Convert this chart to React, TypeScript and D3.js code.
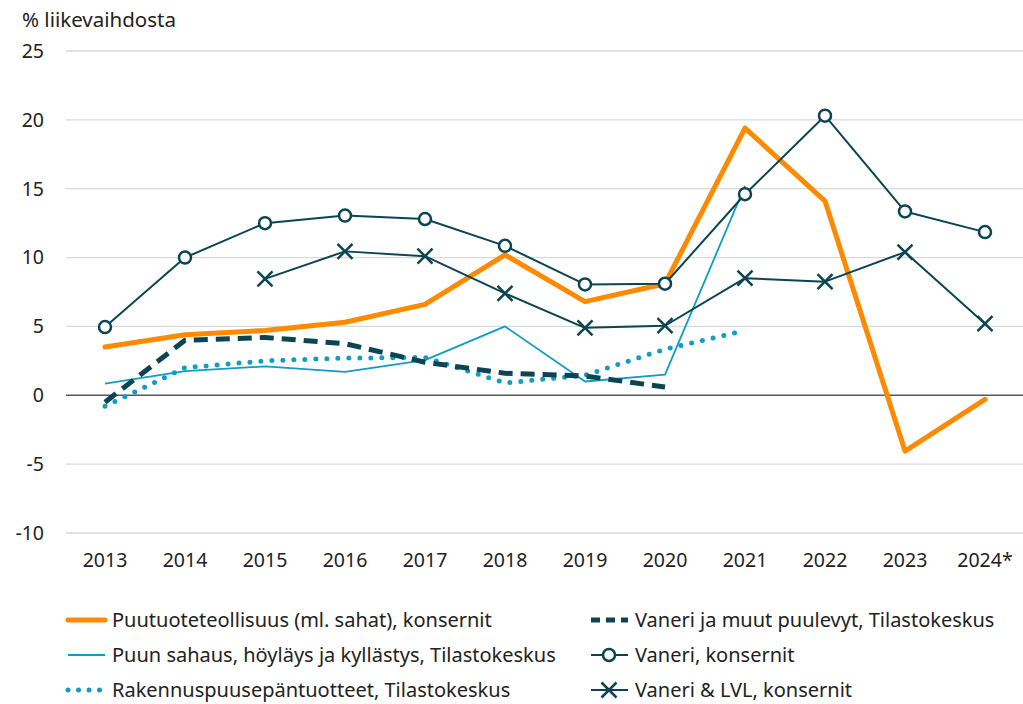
import React from "react";
import * as d3 from "d3";

const years = ["2013","2014","2015","2016","2017","2018","2019","2020","2021","2022","2023","2024*"];
const yTicks = [25, 20, 15, 10, 5, 0, -5, -10];

const puutuote: (number | null)[] = [3.5, 4.4, 4.7, 5.3, 6.6, 10.2, 6.8, 8.1, 19.4, 14.1, -4.05, -0.3];
const vaneriMuut: (number | null)[] = [-0.5, 4.0, 4.2, 3.75, 2.4, 1.6, 1.4, 0.6, null, null, null, null];
const sahaus: (number | null)[] = [0.85, 1.75, 2.1, 1.7, 2.55, 5.0, 1.0, 1.5, 15.2, null, null, null];
const vaneriKons: (number | null)[] = [4.95, 10.0, 12.5, 13.05, 12.8, 10.85, 8.05, 8.1, 14.6, 20.3, 13.35, 11.85];
const rakennus: (number | null)[] = [-0.8, 2.0, 2.5, 2.7, 2.75, 0.9, 1.45, 3.35, 4.7, null, null, null];
const vaneriLvl: (number | null)[] = [null, null, 8.45, 10.45, 10.1, 7.4, 4.9, 5.05, 8.5, 8.25, 10.4, 5.2];

const ORANGE = "#FF8A00";
const DARK = "#0B4453";
const LIGHT = "#119DC2";
const FONT = "'Noto Sans', 'Open Sans', sans-serif";

type Series = {
  name: string;
  values: (number | null)[];
  color: string;
  width: number;
  dash?: string;
  legendDash?: string;
  cap?: "round" | "butt";
  marker?: "circle" | "cross";
};

const series: Series[] = [
  { name: "Puutuoteteollisuus (ml. sahat), konsernit", values: puutuote, color: ORANGE, width: 5, cap: "round" },
  { name: "Vaneri ja muut puulevyt, Tilastokeskus", values: vaneriMuut, color: DARK, width: 5, dash: "14 8", legendDash: "9 6", cap: "butt" },
  { name: "Puun sahaus, höyläys ja kyllästys, Tilastokeskus", values: sahaus, color: LIGHT, width: 1.8 },
  { name: "Vaneri, konsernit", values: vaneriKons, color: DARK, width: 2, marker: "circle" },
  { name: "Rakennuspuusepäntuotteet, Tilastokeskus", values: rakennus, color: LIGHT, width: 5, dash: "0 11", legendDash: "0 10.5", cap: "round" },
  { name: "Vaneri & LVL, konsernit", values: vaneriLvl, color: DARK, width: 2, marker: "cross" },
];

const drawOrder = [4, 2, 1, 0, 5, 3];

export default function App() {
  const W = 1023, H = 704;
  const x = d3.scaleBand<string>().domain(years).range([65, 1025]);
  const y = d3.scaleLinear().domain([-10, 25]).range([533, 51]);
  const cx = (yr: string) => (x(yr) as number) + x.bandwidth() / 2;

  const line = d3
    .line<[string, number | null]>()
    .defined((d) => d[1] !== null)
    .x((d) => cx(d[0]))
    .y((d) => y(d[1] as number));

  const legendCols = [65, 588];
  const legendRows = [620, 655, 690];

  const renderMarker = (type: "circle" | "cross" | undefined, mx: number, my: number, color: string, key: string | number) => {
    if (type === "circle")
      return <circle key={key} cx={mx} cy={my} r={6} fill="#fff" stroke={color} strokeWidth={2.5} />;
    if (type === "cross") {
      const r = 7.5;
      return (
        <path key={key} d={`M${mx - r},${my - r}L${mx + r},${my + r}M${mx - r},${my + r}L${mx + r},${my - r}`} stroke={color} strokeWidth={2.5} fill="none" />
      );
    }
    return null;
  };

  return (
    <svg width={W} height={H} style={{ position: "absolute", left: 0, top: 0, fontFamily: FONT }}>
      <rect width={W} height={H} fill="#fff" />
      <text x={22} y={27} fontSize={20.5} fill="#222">% liikevaihdosta</text>
      {yTicks.map((t) => (
        <g key={t}>
          {t !== 0 && <line x1={66} x2={1023} y1={y(t)} y2={y(t)} stroke="#D9D9D9" strokeWidth={1.3} />}
          <text x={44} y={y(t)} dy="0.35em" textAnchor="end" fontSize={19.5} fill="#222">{t}</text>
        </g>
      ))}
      <line x1={66} x2={1023} y1={y(0)} y2={y(0)} stroke="#595959" strokeWidth={1.5} />
      {years.map((yr) => (
        <text key={yr} x={cx(yr)} y={560} dy="0.35em" textAnchor="middle" fontSize={19.5} fill="#222">{yr}</text>
      ))}
      {drawOrder.map((i) => {
        const s = series[i];
        const pts = years.map((yr, j) => [yr, s.values[j]] as [string, number | null]);
        return (
          <g key={s.name}>
            <path d={line(pts) || ""} fill="none" stroke={s.color} strokeWidth={s.width}
              strokeDasharray={s.dash} strokeLinecap={s.cap || "butt"} strokeLinejoin="round" />
            {s.marker && pts.filter((p) => p[1] !== null).map((p, k) =>
              renderMarker(s.marker, cx(p[0]), y(p[1] as number), s.color, k))}
          </g>
        );
      })}
      {series.map((s, i) => {
        const lx = legendCols[i % 2];
        const ly = legendRows[Math.floor(i / 2)];
        return (
          <g key={"lg" + i}>
            <line x1={lx + 3} x2={lx + 40} y1={ly} y2={ly} stroke={s.color} strokeWidth={s.width}
              strokeDasharray={s.legendDash} strokeLinecap={s.cap || "butt"} />
            {renderMarker(s.marker, lx + 21, ly, s.color, "m")}
            <text x={lx + 47} y={ly} dy="0.35em" fontSize={20} fill="#222">{s.name}</text>
          </g>
        );
      })}
    </svg>
  );
}
